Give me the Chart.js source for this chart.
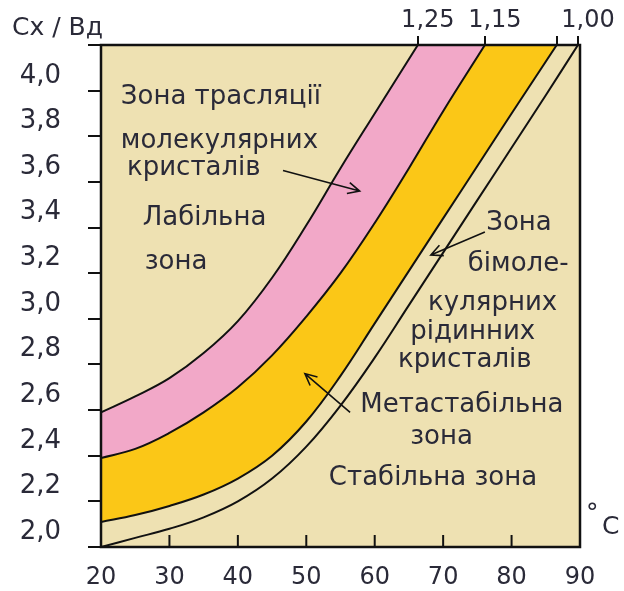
<!DOCTYPE html>
<html>
<head>
<meta charset="utf-8">
<script src="https://cdn.jsdelivr.net/npm/chart.js@4/dist/chart.umd.min.js"></script>
<style>
html,body{margin:0;padding:0;background:#fff;}
canvas{display:block;}
</style>
</head>
<body>
<canvas id="chart" width="624" height="591"></canvas>
<script>
// Cx/Bd ratio vs temperature, one boundary curve per supersaturation level
const x125 = [20,25,30,35,40,45,50,55,60,66.3];
const y125 = [2.49,2.56,2.64,2.75,2.89,3.08,3.31,3.56,3.80,4.10];
const x115 = [20,25,30,35,40,45,50,55,60,65,70,76.1];
const y115 = [2.29,2.33,2.40,2.49,2.60,2.74,2.91,3.10,3.32,3.56,3.81,4.10];
const xMid = [20,25,30,35,40,45,50,55,60,65,70,75,80,86.6];
const yMid = [2.01,2.04,2.08,2.13,2.20,2.30,2.45,2.65,2.88,3.11,3.34,3.57,3.80,4.10];
const x100 = [20,25,30,35,40,45,50,55,60,65,70,75,80,85,89.7];
const y100 = [1.90,1.94,1.98,2.03,2.10,2.20,2.34,2.52,2.73,2.96,3.19,3.42,3.65,3.88,4.10];

const yTickVals = [1.9,2.1,2.3,2.5,2.7,2.9,3.1,3.3,3.5,3.7,3.9,4.1];
const yLabelVals = [2.0,2.2,2.4,2.6,2.8,3.0,3.2,3.4,3.6,3.8,4.0];
const topLabels = ['1,25','1,15','','1,00'];
const topTicks = [x125, x115, xMid, x100].map(a => a[a.length-1]);

// zone captions: text, °C, ratio
const notes = [
  ['Зона трасляції',22.9,3.87],
  ['молекулярних',22.9,3.68],
  ['кристалів',23.8,3.56],
  ['Лабільна',26.1,3.34],
  ['зона',26.4,3.15],
  ['Зона',76.3,3.32],
  ['бімоле-',73.6,3.14],
  ['кулярних',67.8,2.97],
  ['рідинних',65.2,2.84],
  ['кристалів',63.4,2.72],
  ['Метастабільна',57.9,2.52],
  ['зона',65.2,2.38],
  ['Стабільна зона',53.3,2.20]
];
const arrows = [
  [46.6,3.55,57.8,3.46],
  [76.1,3.28,68.2,3.18],
  [56.4,2.49,49.8,2.66]
];

const BEIGE='#eee1b2', PINK='#f2a8c8', ORANGE='#fbc717', INK='#2a2a38';
const FONT='"DejaVu Sans", Verdana, sans-serif';

const pts=(xs,ys)=>xs.map((x,i)=>({x,y:ys[i]}));
const curve=(xs,ys,fillColor)=>({
  data:pts(xs,ys),
  borderColor:'#111',borderWidth:2,pointRadius:0,
  tension:0.4,
  fill:fillColor?'end':false,
  backgroundColor:fillColor||'transparent',
  yAxisID:'y'
});

function arrow(ctx,x1,y1,x2,y2){
  const ang=Math.atan2(y2-y1,x2-x1), h=13, s=0.45;
  ctx.beginPath();
  ctx.moveTo(x1,y1); ctx.lineTo(x2,y2);
  ctx.moveTo(x2-h*Math.cos(ang-s),y2-h*Math.sin(ang-s));
  ctx.lineTo(x2,y2);
  ctx.lineTo(x2-h*Math.cos(ang+s),y2-h*Math.sin(ang+s));
  ctx.stroke();
}

const decor={
  id:'decor',
  beforeDraw(c){
    const {ctx,chartArea:a}=c;
    ctx.save();
    ctx.fillStyle=BEIGE;
    ctx.fillRect(a.left,a.top,a.width,a.height);
    ctx.restore();
  },
  afterDatasetsDraw(c){
    const {ctx,chartArea:a,scales}=c;
    const sx=scales.x, sy=scales.y;
    ctx.save();
    ctx.strokeStyle='#111';
    ctx.lineWidth=2.5;
    ctx.strokeRect(a.left,a.top,a.width,a.height);
    // inward ticks on the temperature axis
    ctx.lineWidth=2;
    sx.ticks.forEach(t=>{
      const px=sx.getPixelForValue(t.value);
      ctx.beginPath(); ctx.moveTo(px,a.bottom); ctx.lineTo(px,a.bottom-12); ctx.stroke();
    });
    ctx.lineWidth=1.6;
    arrows.forEach(([x1,y1,x2,y2])=>arrow(ctx,sx.getPixelForValue(x1),sy.getPixelForValue(y1),sx.getPixelForValue(x2),sy.getPixelForValue(y2)));
    ctx.fillStyle=INK;
    ctx.font='26px '+FONT;
    ctx.textAlign='left';
    ctx.textBaseline='middle';
    notes.forEach(([t,x,y])=>ctx.fillText(t,sx.getPixelForValue(x),sy.getPixelForValue(y)));
    ctx.font='25px '+FONT;
    ctx.fillText('Cx / Вд',12,a.top-17);
    ctx.fillText('°',a.right+6,a.bottom-33);
    ctx.fillText('C',a.right+22,a.bottom-20);
    ctx.restore();
  }
};

new Chart(document.getElementById('chart'),{
  type:'line',
  data:{datasets:[
    curve(x125,y125,BEIGE),
    curve(x115,y115,PINK),
    curve(xMid,yMid,ORANGE),
    curve(x100,y100,null)
  ]},
  options:{
    responsive:false,
    animation:false,
    devicePixelRatio:1,
    layout:{padding:{left:0,right:44,top:0,bottom:0}},
    plugins:{legend:{display:false},tooltip:{enabled:false}},
    scales:{
      x:{
        type:'linear',position:'bottom',min:20,max:90,
        ticks:{stepSize:10,autoSkip:false,maxRotation:0,padding:16,color:INK,font:{family:FONT,size:24}},
        grid:{display:true,drawOnChartArea:false,drawTicks:false},
        border:{display:true,color:'#111',width:2},
        afterFit:s=>{s.height=44;}
      },
      x2:{
        type:'linear',position:'top',min:20,max:90,
        afterBuildTicks:s=>{s.ticks=topTicks.map(v=>({value:v}));},
        ticks:{autoSkip:false,maxRotation:0,padding:1,labelOffset:10,color:INK,font:{family:FONT,size:24},
          callback:(v,i)=>topLabels[i]},
        grid:{display:true,drawOnChartArea:false,drawTicks:true,tickLength:9,color:'#111',lineWidth:2},
        border:{display:true,color:'#111',width:2},
        afterFit:s=>{s.height=45;}
      },
      yTicks:{
        type:'linear',position:'left',min:1.9,max:4.1,weight:0,
        afterBuildTicks:s=>{s.ticks=yTickVals.map(v=>({value:v}));},
        ticks:{display:false},
        grid:{display:true,drawOnChartArea:false,drawTicks:true,tickLength:13,color:'#111',lineWidth:2},
        border:{display:true,color:'#111',width:2},
        afterFit:s=>{s.width=14;}
      },
      y:{
        type:'linear',position:'left',min:1.9,max:4.1,weight:1,
        afterBuildTicks:s=>{s.ticks=yLabelVals.map(v=>({value:v}));},
        ticks:{padding:18,labelOffset:8,color:INK,font:{family:FONT,size:26},
          callback:v=>v.toFixed(1).replace('.',',')},
        grid:{display:false},
        border:{display:false},
        afterFit:s=>{s.width=87;}
      }
    }
  },
  plugins:[decor]
});
</script>
</body>
</html>
